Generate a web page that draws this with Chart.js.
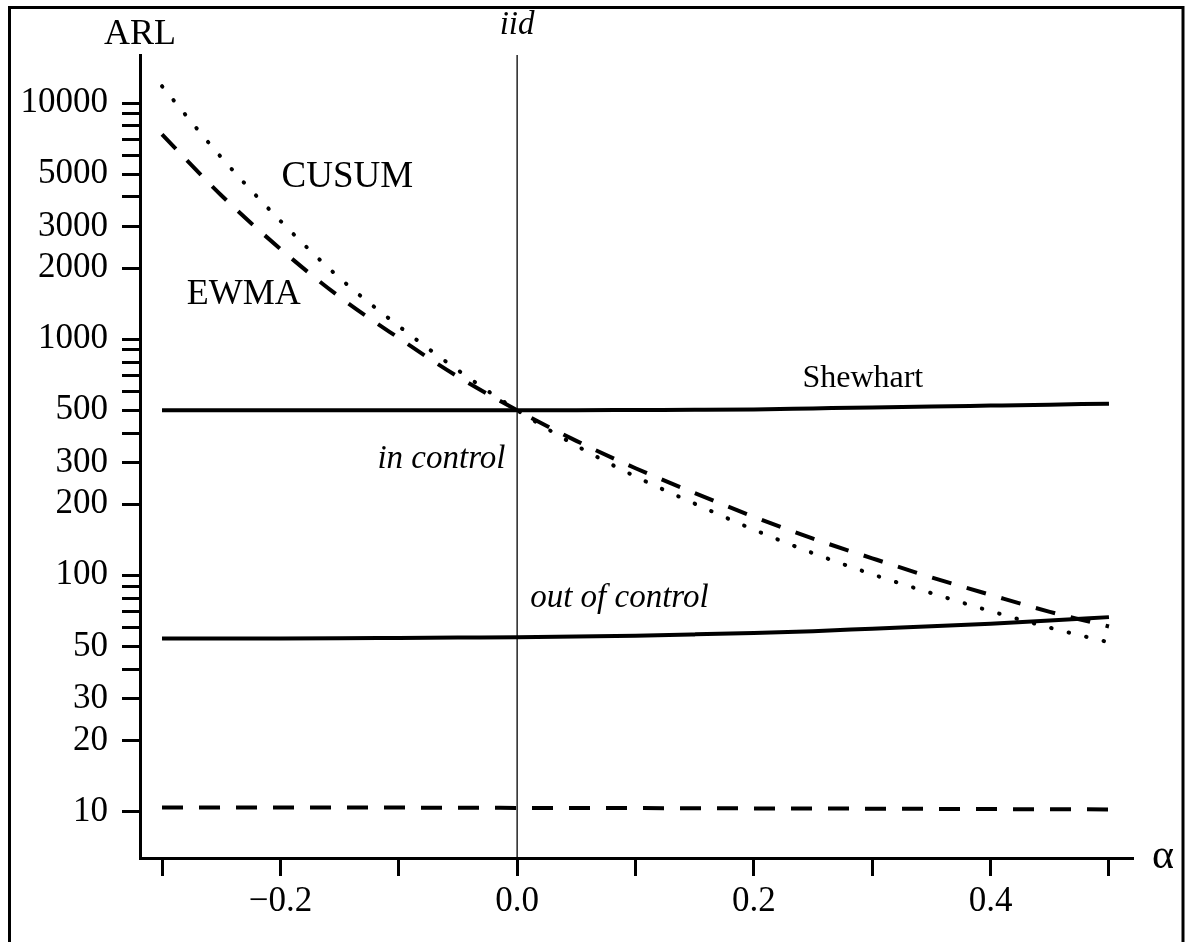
<!DOCTYPE html>
<html>
<head>
<meta charset="utf-8">
<script src="https://cdn.jsdelivr.net/npm/chart.js@4.4.1/dist/chart.umd.min.js"></script>
<style>
  html, body { margin: 0; padding: 0; background: #fff; }
  canvas { display: block; }
</style>
</head>
<body>
<canvas id="arlChart" width="1187" height="942"></canvas>
<script>
// alpha (AR coefficient) grid
const alphaValues = [-0.3, -0.25, -0.2, -0.15, -0.1, -0.05, 0, 0.05, 0.1, 0.15, 0.2, 0.25, 0.3, 0.35, 0.4, 0.45, 0.5];

// ARL values
const cusumInControl = [11780, 5890, 3170, 1816, 1136, 739, 500, 354, 262, 201, 156, 124, 101, 84, 70.5, 60, 52];
const ewmaInControl = [7360, 4070, 2410, 1510, 1011, 693, 500, 371, 284, 223, 177, 143, 118, 98, 82.6, 70, 60.7];
const shewhartInControl = [500, 500, 500, 500, 500, 500, 500, 500, 501, 502, 504, 509, 514, 518, 523, 528, 533];
const shewhartOutControl = [54, 54, 54, 54.1, 54.3, 54.5, 54.7, 55, 55.5, 56.2, 57, 58, 59.4, 60.8, 62.4, 64.3, 66.5];
const smoothedOutControl = [10.4, 10.4, 10.4, 10.4, 10.38, 10.36, 10.35, 10.34, 10.33, 10.32, 10.3, 10.29, 10.27, 10.25, 10.23, 10.21, 10.2];

// axes
const xMin = -0.3186, xMax = 0.5203;
const yMin = 6.35, yMax = 15970;
const xTickValues = [-0.3, -0.2, -0.1, 0, 0.1, 0.2, 0.3, 0.4, 0.5];
const xTickLabels = ['', '\u22120.2', '', '0.0', '', '0.2', '', '0.4', ''];
const yTickValues = [10, 20, 30, 40, 50, 60, 70, 80, 90, 100, 200, 300, 400, 500, 600, 700, 800, 900,
  1000, 2000, 3000, 4000, 5000, 6000, 7000, 8000, 9000, 10000];
const yTickLabels = ['10', '20', '30', '', '50', '', '', '', '', '100', '200', '300', '', '500', '', '', '', '',
  '1000', '2000', '3000', '', '5000', '', '', '', '', '10000'];

// text placed in data coordinates
const annotations = [
  { text: 'ARL', x: xMin, y: 17700, italic: false, size: 36, align: 'center' },
  { text: 'iid', x: 0, y: 19540, italic: true, size: 33, align: 'center' },
  { text: 'CUSUM', x: -0.199, y: 4405, italic: false, size: 37, align: 'left' },
  { text: 'EWMA', x: -0.279, y: 1410, italic: false, size: 36, align: 'left' },
  { text: 'Shewhart', x: 0.241, y: 629, italic: false, size: 32, align: 'left' },
  { text: 'in control', x: -0.118, y: 286, italic: true, size: 33, align: 'left' },
  { text: 'out of control', x: 0.011, y: 73.3, italic: true, size: 33, align: 'left' },
  { text: '\u03b1', x: 0.5363, y: 5.75, italic: false, size: 42, align: 'left' }
];

const FONT = '"Liberation Serif", "Times New Roman", serif';
Chart.defaults.font.family = FONT;
Chart.defaults.color = '#000';

function toPoints(values) {
  return values.map((v, i) => ({ x: alphaValues[i], y: v }));
}

const lineBase = {
  pointRadius: 0,
  fill: false,
  borderColor: '#000',
  cubicInterpolationMode: 'monotone'
};

const textPlugin = {
  id: 'textAndFrame',
  afterDraw(chart) {
    const ctx = chart.ctx;
    const xs = chart.scales.x, ys = chart.scales.y;
    ctx.save();
    ctx.fillStyle = '#000';
    ctx.textBaseline = 'alphabetic';
    annotations.forEach(a => {
      ctx.font = (a.italic ? 'italic ' : '') + a.size + 'px ' + FONT;
      ctx.textAlign = a.align;
      ctx.fillText(a.text, xs.getPixelForValue(a.x), ys.getPixelForValue(a.y));
    });
    // outer frame
    ctx.strokeStyle = '#000';
    ctx.lineWidth = 3;
    ctx.strokeRect(9.5, 7.5, 1173.5, 960);
    ctx.restore();
  }
};

const ctx = document.getElementById('arlChart').getContext('2d');
new Chart(ctx, {
  type: 'line',
  data: {
    datasets: [
      Object.assign({ label: 'iid', data: [{ x: 0, y: yMin }, { x: 0, y: yMax }], borderWidth: 1.3 }, lineBase),
      Object.assign({ label: 'Shewhart in control', data: toPoints(shewhartInControl), borderWidth: 4 }, lineBase),
      Object.assign({ label: 'Shewhart out of control', data: toPoints(shewhartOutControl), borderWidth: 4 }, lineBase),
      Object.assign({ label: 'EWMA in control', data: toPoints(ewmaInControl), borderWidth: 4, borderDash: [20, 16] }, lineBase),
      Object.assign({ label: 'CUSUM in control', data: toPoints(cusumInControl), borderWidth: 4, borderDash: [0.5, 17.5], borderCapStyle: 'round' }, lineBase),
      Object.assign({ label: 'out of control', data: toPoints(smoothedOutControl), borderWidth: 4, borderDash: [21, 16] }, lineBase)
    ]
  },
  options: {
    responsive: false,
    animation: false,
    devicePixelRatio: 1,
    layout: { padding: { left: 0, top: 55, right: 54, bottom: 0 } },
    plugins: { legend: { display: false }, tooltip: { enabled: false } },
    scales: {
      x: {
        type: 'linear',
        min: xMin,
        max: xMax,
        afterBuildTicks: (scale) => { scale.ticks = xTickValues.map(v => ({ value: v })); },
        afterFit: (scale) => { scale.height = 84; },
        ticks: {
          autoSkip: false,
          maxRotation: 0,
          minRotation: 0,
          padding: 5,
          font: { size: 35 },
          color: '#000',
          callback: (value, index) => xTickLabels[index]
        },
        grid: { drawOnChartArea: false, drawTicks: true, tickLength: 18, tickWidth: 3, tickColor: '#000' },
        border: { display: true, color: '#000', width: 3 }
      },
      y: {
        type: 'logarithmic',
        min: yMin,
        max: yMax,
        afterBuildTicks: (scale) => { scale.ticks = yTickValues.map(v => ({ value: v })); },
        afterFit: (scale) => { scale.width = 140; },
        ticks: {
          autoSkip: false,
          padding: 14,
          font: { size: 35 },
          color: '#000',
          callback: (value, index) => yTickLabels[index]
        },
        grid: { drawOnChartArea: false, drawTicks: true, tickLength: 18, tickWidth: 3, tickColor: '#000' },
        border: { display: true, color: '#000', width: 3 }
      }
    }
  },
  plugins: [textPlugin]
});
</script>
</body>
</html>
